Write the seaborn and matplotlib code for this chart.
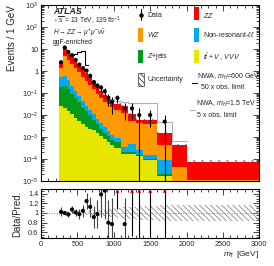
import numpy as np
import pandas as pd
import matplotlib
matplotlib.use("Agg")
import matplotlib.pyplot as plt
import matplotlib.ticker as mticker
import seaborn as sns
from matplotlib.patches import Rectangle
from matplotlib.lines import Line2D

# ---------------- data ----------------
bin_edges = [250, 300, 350, 400, 450, 500, 550, 600, 650, 700, 750, 800, 850, 900,
             950, 1000, 1100, 1200, 1300, 1400, 1600, 1800, 2000, 3000]
# backgrounds, events / GeV
ttv_vvv = [0.025, 0.021, 0.015, 0.011, 0.0075, 0.0055, 0.004, 0.003, 0.0024, 0.002,
           0.0016, 0.0011, 0.0008, 0.0006, 0.00042, 0.00033, 0.00016, 0.00017, 0.00013,
           0.00009, 0.000016, 0.000008, 0.000008]
zjets = [0.165, 0.189, 0.135, 0.084, 0.0525, 0.0325, 0.018, 0.012, 0.0076, 0.0042,
         0.0022, 0.0013, 0.0008, 0.0005, 0.00028, 0.00027, 0.00004, 0.00003, 0.00002,
         0.00001, 0.000004, 0.000001, 0.0000015]
nonres = [0.36, 0.39, 0.23, 0.125, 0.06, 0.032, 0.02, 0.012, 0.007, 0.0048,
          0.0027, 0.0018, 0.0012, 0.0007, 0.0005, 0.00026, 0.00016, 0.0003, 0.0001,
          0.00005, 0.00007, 0.000001, 0.0000005]
wz = [0.80, 4.40, 2.92, 1.88, 1.23, 0.80, 0.518, 0.333, 0.213, 0.139,
      0.0885, 0.0558, 0.0372, 0.0302, 0.0228, 0.0161, 0.0126, 0.005, 0.00395,
      0.00385, 0.00034, 0.000035, 0.000001]
zz = [1.15, 7.0, 4.5, 2.9, 1.85, 1.18, 0.76, 0.49, 0.32, 0.20,
      0.13, 0.07, 0.042, 0.043, 0.028, 0.016, 0.013, 0.0055, 0.0018,
      0.0018, 0.00107, 0.000385, 0.000065]
data = [2.56, 12.0, 7.56, 5.36, 3.24, 2.0, 1.38, 1.06, 0.62, 0.32,
        0.22, 0.18, 0.12, 0.06, 0.04, 0.06, 0.02, 0.02, 0.01,
        0.01, 0.005, 0.0, 0.0]
# signals (events / GeV) stacked on top of the total background
sig600_x50 = [0, 0, 0, 0.3, 2.7, 5.45, 7.2, 1.05, 0, 0, 0, 0, 0, 0, 0, 0, 0, 0, 0, 0,
              0, 0, 0]
sig1500_x5 = [0, 0, 0, 0, 0, 0, 0, 0, 0, 0, 0, 0, 0, 0, 0.003, 0.012, 0.014, 0.025,
              0.029, 0.0282, 0.0035, 0.00024, 0]
unc_rel = [0.04, 0.035, 0.035, 0.035, 0.04, 0.04, 0.045, 0.05, 0.05, 0.055,
           0.06, 0.07, 0.07, 0.08, 0.09, 0.11, 0.12, 0.13, 0.14,
           0.15, 0.16, 0.16, 0.16]

procs = ["ttV", "Zjets", "nonres", "WZ", "ZZ"]
colors = {"ZZ": "#ff0000", "WZ": "#ff9900", "nonres": "#00aaee",
          "Zjets": "#009a1a", "ttV": "#e6e600"}

edges = np.array(bin_edges, float)
centers = 0.5 * (edges[1:] + edges[:-1])
widths = edges[1:] - edges[:-1]
comp = {"ttV": np.array(ttv_vvv), "Zjets": np.array(zjets), "nonres": np.array(nonres),
        "WZ": np.array(wz), "ZZ": np.array(zz)}
total = sum(comp.values())
data = np.array(data)
counts = data * widths
derr = np.sqrt(counts) / widths

# ---------------- figure ----------------
sns.set_theme(style="ticks")
plt.rcParams["font.family"] = ["Liberation Sans", "DejaVu Sans"]
plt.rcParams["mathtext.fontset"] = "custom"
plt.rcParams["mathtext.rm"] = "Liberation Sans"
plt.rcParams["mathtext.it"] = "Liberation Sans:italic"
plt.rcParams["mathtext.bf"] = "Liberation Sans:bold"
plt.rcParams["hatch.linewidth"] = 0.6
fig = plt.figure(figsize=(2.74, 2.66), dpi=100)
ax = fig.add_axes([0.150, 0.32, 0.796, 0.66])
rax = fig.add_axes([0.150, 0.105, 0.796, 0.185])


def step_hist(a, x, w, bins, **kw):
    df = pd.DataFrame({"x": list(x), "w": list(w)})
    sns.histplot(data=df, x="x", weights="w", bins=list(bins), stat="count",
                 legend=False, ax=a, **kw)


# stacked backgrounds: cumulative layers drawn from the top down
cum = np.zeros_like(total)
cums = {}
for p in procs:
    cum = cum + comp[p]
    cums[p] = cum.copy()
for p in procs[::-1]:
    step_hist(ax, centers, cums[p], edges, element="step", fill=True,
              color=colors[p], alpha=1, linewidth=0)
ax.set_yscale("log")

# uncertainty band on main
ur = np.array(unc_rel)
ax.fill_between(edges, np.r_[total * (1 - ur), total[-1] * (1 - ur[-1])],
                np.r_[total * (1 + ur), total[-1] * (1 + ur[-1])],
                step="post", facecolor="none", edgecolor="#555555", hatch="\\\\\\\\",
                linewidth=0, zorder=3)


def sig_line(sig, color):
    sig = np.array(sig)
    idx = np.where(sig > 0)[0]
    i0, i1 = idx[0], idx[-1] + 1
    step_hist(ax, centers[i0:i1], (total + sig)[i0:i1], edges[i0:i1 + 1],
              element="step", fill=False, color=color, linewidth=0.8)


sig_line(sig600_x50, "black")
sig_line(sig1500_x5, "#b0b0b0")

# data
ok = data > 0
lo = np.where(data - derr > 0, derr, data * 0.99999)
ax.errorbar(centers[ok], data[ok], yerr=[lo[ok], derr[ok]], fmt="none", ecolor="black",
            elinewidth=0.8, capsize=0, zorder=6)
sns.scatterplot(x=centers[ok], y=data[ok], color="black", s=9, edgecolor="none", ax=ax,
                zorder=7)

ax.set_xlim(0, 3000)
ax.set_ylim(1e-5, 1e3)
ax.set_yticks([1e-5, 1e-4, 1e-3, 1e-2, 1e-1, 1, 10, 100, 1000])
ax.set_yticklabels(["$10^{-5}$", "$10^{-4}$", "$10^{-3}$", "$10^{-2}$", "$10^{-1}$", "1",
                    "10", "$10^{2}$", "$10^{3}$"])
ax.yaxis.set_minor_locator(mticker.LogLocator(base=10, subs=np.arange(2, 10), numticks=20))
ax.yaxis.set_minor_formatter(mticker.NullFormatter())
ax.xaxis.set_minor_locator(mticker.MultipleLocator(100))
ax.xaxis.set_major_locator(mticker.MultipleLocator(500))
ax.set_xticklabels([])
ax.set_xlabel("")
ax.set_ylabel("Events / 1 GeV", fontsize=7, loc="top")

tx = 0.054
ax.text(tx, 0.966, "ATLAS", transform=ax.transAxes, fontsize=6.3, fontweight="bold",
        fontstyle="italic", va="center")
ax.text(tx, 0.909, "$\\sqrt{s}$ = 13 TeV, 139 fb$^{-1}$", transform=ax.transAxes,
        fontsize=4.8, va="center")
ax.text(tx, 0.841, "$H\\rightarrow ZZ\\rightarrow\\mu^{+}\\mu^{-}\\nu\\bar{\\nu}$",
        transform=ax.transAxes, fontsize=4.8, va="center")
ax.text(tx, 0.787, "ggF-enriched", transform=ax.transAxes, fontsize=4.9, va="center")

# ---------------- legend (axes-fraction layout) ----------------
T = ax.transAxes
lfs = 5.0


def box(x0, x1, y0, y1, fc, hatch=None, ec="none"):
    ax.add_patch(Rectangle((x0, y0), x1 - x0, y1 - y0, transform=T, facecolor=fc,
                           edgecolor=ec, hatch=hatch, linewidth=0.5, clip_on=False,
                           zorder=8))


def ltext(x, y, s):
    ax.text(x, y, s, transform=T, fontsize=lfs, va="center", ha="left", zorder=8)


# Data
ax.add_line(Line2D([0.459, 0.459], [0.916, 0.979], transform=T, color="black", lw=0.8))
ax.add_line(Line2D([0.459], [0.944], transform=T, color="black", marker="o",
                   markersize=2.2, lw=0))
ltext(0.485, 0.944, "Data")
box(0.699, 0.722, 0.916, 0.992, colors["ZZ"])
ltext(0.742, 0.944, "$ZZ$")
box(0.446, 0.469, 0.791, 0.871, colors["WZ"])
ltext(0.485, 0.831, "$WZ$")
box(0.699, 0.722, 0.791, 0.871, colors["nonres"])
ltext(0.742, 0.831, "Non-resonant-$\\ell\\ell$")
box(0.446, 0.469, 0.671, 0.745, colors["Zjets"])
ltext(0.485, 0.706, "$Z$+jets")
box(0.699, 0.722, 0.671, 0.745, colors["ttV"])
ltext(0.742, 0.706, "$t\\bar{t}+V$ , $VVV$")
box(0.442, 0.472, 0.540, 0.616, "white", hatch="\\\\\\\\\\\\", ec="#333333")
ltext(0.487, 0.577, "Uncertainty")
ax.add_line(Line2D([0.691, 0.714], [0.556, 0.556], transform=T, color="black", lw=0.8))
ltext(0.716, 0.592, "NWA, $m_H$=600 GeV")
ltext(0.733, 0.531, "50 x obs. limit")
ax.add_line(Line2D([0.683, 0.706], [0.404, 0.404], transform=T, color="#b0b0b0", lw=0.8))
ltext(0.708, 0.436, "NWA, $m_H$=1.5 TeV")
ltext(0.716, 0.375, "5 x obs. limit")

for a in (ax, rax):
    a.tick_params(which="both", direction="in", top=True, right=True, labelsize=5.3,
                  width=0.6, pad=2)
    a.tick_params(which="major", length=4)
    a.tick_params(which="minor", length=2.2)
    for s in a.spines.values():
        s.set_linewidth(0.8)
        s.set_color("black")

# ---------------- ratio ----------------
ratio = np.where(ok, data / total, np.nan)
rerr = derr / total
rax.fill_between(edges, np.r_[1 - ur, 1 - ur[-1]], np.r_[1 + ur, 1 + ur[-1]], step="post",
                 facecolor="none", edgecolor="#8c8c8c", hatch="\\\\\\\\\\\\", linewidth=0)
rax.axhline(1, color="#888888", linestyle=":", linewidth=0.7)
ymax = 1.5
inr = ok & (ratio <= ymax)
outr = ok & (ratio > ymax)
rax.errorbar(centers[inr], ratio[inr], yerr=rerr[inr], fmt="none", ecolor="#444444",
             elinewidth=0.8)
sns.scatterplot(x=centers[inr], y=ratio[inr], color="black", s=9, edgecolor="none",
                ax=rax, zorder=5)
rax.vlines(centers[outr], np.maximum((ratio - rerr)[outr], 0.3), ymax, color="black",
           linewidth=0.8)
sns.scatterplot(x=centers[outr], y=np.full(outr.sum(), 1.46), marker="^", color="#cc0000",
                s=8, edgecolor="none", ax=rax, zorder=6)
rax.set_xlim(0, 3000)
rax.set_ylim(0.48, 1.5)
rax.set_yticks([0.6, 0.8, 1.0, 1.2, 1.4])
rax.set_yticklabels(["0.6", "0.8", "1", "1.2", "1.4"])
rax.yaxis.set_minor_locator(mticker.MultipleLocator(0.05))
rax.xaxis.set_minor_locator(mticker.MultipleLocator(100))
rax.xaxis.set_major_locator(mticker.MultipleLocator(500))
rax.set_ylabel("Data/Pred.", fontsize=7)
rax.set_xlabel("$m_{\\mathrm{T}}$ [GeV]", fontsize=6, loc="right", labelpad=0.5)
fig.align_ylabels([ax, rax])

fig.savefig("out.png", dpi=100)
